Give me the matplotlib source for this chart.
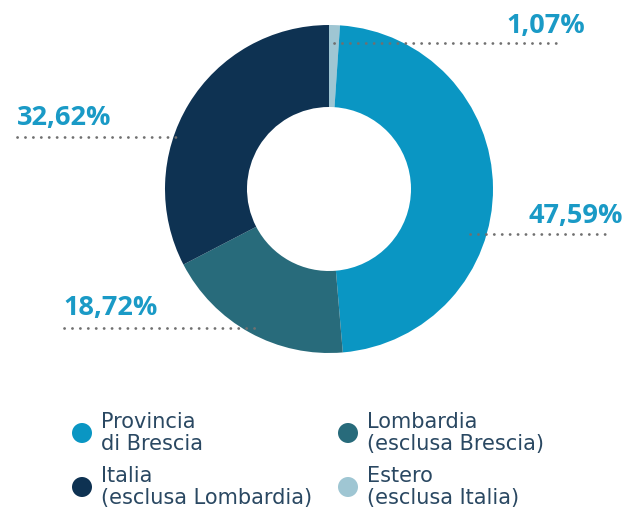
import matplotlib.pyplot as plt
from matplotlib.patches import Circle

# provenienza (%)
labels = ["Estero\n(esclusa Italia)", "Provincia\ndi Brescia",
          "Lombardia\n(esclusa Brescia)", "Italia\n(esclusa Lombardia)"]
values = [1.07, 47.59, 18.72, 32.62]
colors = ["#9fc6d3", "#0a96c3", "#286b7b", "#0e3252"]
value_text = ["1,07%", "47,59%", "18,72%", "32,62%"]

W, H = 627, 509
fig = plt.figure(figsize=(W / 100, H / 100), dpi=100)
ax = fig.add_axes([0, 0, 1, 1])

cx, cy, R = 329, H - 189, 164
ax.pie(values, colors=colors, startangle=90, counterclock=False,
       center=(cx, cy), radius=R,
       wedgeprops=dict(width=R * 0.5, linewidth=0))

blue = "#1a9ac6"
dots = dict(color="#707070", lw=2.0, ls=(0, (0.05, 2.8)), dash_capstyle="round")

# etichette con linee a puntini (x0, x1, y linea, x testo, ha, scarto baseline)
callouts = [
    (334, 557, 43, 585, "right", 10),
    (470, 609, 234, 623, "right", 11),
    (64, 256, 328, 63, "left", 13),
    (17, 182, 137, 17, "left", 12),
]
for (x0, x1, yl, xt, ha, dy), txt in zip(callouts, value_text):
    ax.plot([x0, x1], [H - yl, H - yl], **dots)
    ax.text(xt, H - yl + dy, txt, ha=ha, va="baseline", color=blue,
            fontsize=19.5, fontweight="bold", family="Open Sans")

# legenda
leg_pos = [(348, 487), (82, 433), (348, 433), (82, 487)]
for (lx, ly), lab, col in zip(leg_pos, labels, colors):
    ax.add_patch(Circle((lx, H - ly), 10, color=col, lw=0))
    ax.text(lx + 19, H - ly, lab, ha="left", va="center", color="#2a4862",
            fontsize=15, family="DejaVu Sans", linespacing=1.12)

ax.set_xlim(0, W)
ax.set_ylim(0, H)
ax.set_aspect("equal")
ax.axis("off")
fig.savefig("out.png", dpi=100)
